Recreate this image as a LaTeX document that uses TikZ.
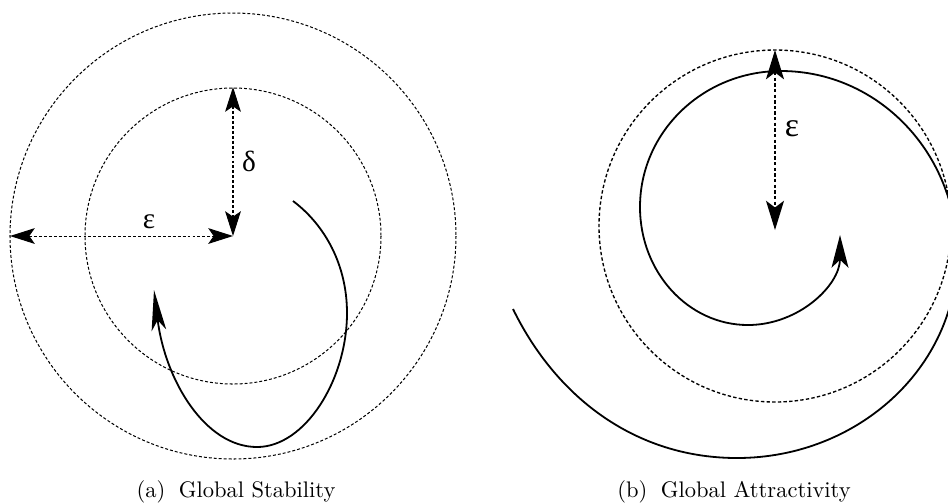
\documentclass[tikz,border=0pt]{standalone}
\usepackage{fontspec}
\newfontfamily\grk{Liberation Serif}
\usetikzlibrary{arrows.meta}
\tikzset{
  tipS/.tip={Stealth[length=11pt,width=7pt,inset=2.4pt]},
  tipR/.tip={Stealth[length=13pt,width=8pt,inset=3pt]},
  tipA/.tip={Stealth[length=18pt,width=6.5pt,inset=4.5pt]},
  tipB/.tip={Stealth[length=14.5pt,width=7.5pt,inset=3.5pt]},
  dota/.style={line width=0.45pt, dash pattern=on 1.3pt off 0.9pt},
  dotb/.style={line width=0.6pt, dash pattern=on 1.5pt off 1pt},
  traj/.style={line width=0.8pt},
  greeklabel/.style={inner sep=0pt},
  caption/.style={anchor=base, inner sep=0pt}
}
\begin{document}
\begin{tikzpicture}[x=0.444pt,y=-0.444pt]
\clip (0,0) rectangle (948,502);
% ---------- (a) ----------
\coordinate (ca) at (233,236);
\coordinate (dtop) at (233,87);
\coordinate (eleft) at (10,236);
\draw[dota] (ca) circle [radius=223];
\draw[dota] (ca) circle [radius=148];
\draw[dota, tipS-tipS] (dtop) -- (ca);
\draw[dota, tipS-tipS] (eleft) -- (ca);
\node[greeklabel, font=\fontsize{13pt}{13pt}\grk] (dlab) at (249,161) {δ};
\node[greeklabel, font=\fontsize{13pt}{13pt}\grk] (elab) at (149,222) {ε};
\coordinate (a0) at (293,201);
\coordinate (a1) at (347,313);
\coordinate (a2) at (257,447);
\coordinate (a3) at (154,290);
\draw[traj, -tipA] (a0) .. controls (325,225) and (347,265) .. (a1)
  .. controls (347,380) and (305,447) .. (a2)
  .. controls (205,447) and (165,380) .. (a3);
\node[caption] (capa) at (236,497) {(a)\hskip0.6em Global Stability};
% ---------- (b) ----------
\coordinate (cb) at (775,230);
\coordinate (btop) at (775,50);
\draw[dotb] (775,226) circle [radius=176];
\draw[dotb, tipR-tipR] (btop) -- (cb);
\node[greeklabel, font=\fontsize{15pt}{15pt}\grk] (elabb) at (792,129) {ε};
\coordinate (b0) at (513,309);
\coordinate (b1) at (737,458);
\coordinate (b2) at (957,255);
\coordinate (b3) at (781,71);
\coordinate (b4) at (640,207);
\coordinate (b5) at (748,325);
\coordinate (b6) at (840,235);
\draw[traj, -tipB] (b0) .. controls (557,399) and (637,458) .. (b1)
  .. controls (858,458) and (957,367) .. (b2)
  .. controls (957,153) and (878,71) .. (b3)
  .. controls (703,71) and (640,132) .. (b4)
  .. controls (640,272) and (688,325) .. (b5)
  .. controls (799,325) and (840,285) .. (b6);
\node[caption] (capb) at (734,497) {(b)\hskip0.6em Global Attractivity};
\end{tikzpicture}
\end{document}
